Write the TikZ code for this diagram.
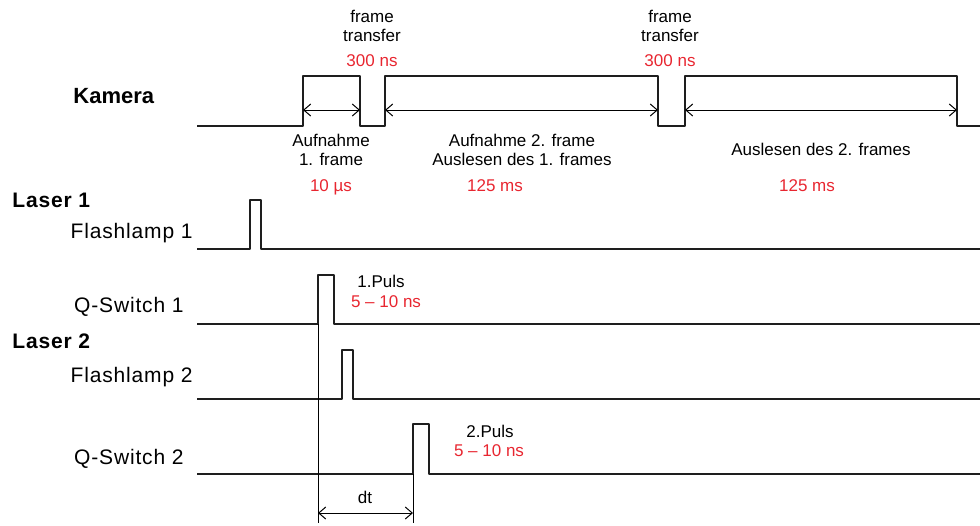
\documentclass[tikz,border=0pt]{standalone}
\usepackage{fontspec}
\setmainfont{Liberation Sans}
\newfontfamily\chanfont[LetterSpace=4]{Liberation Sans}
\usetikzlibrary{arrows.meta, positioning}
\definecolor{valred}{RGB}{232, 38, 48}
\definecolor{sigblack}{RGB}{30, 30, 30}
\tikzset{
  signal/.style={line width=1.2pt, draw=sigblack, line join=round},
  dimline/.style={{Straight Barb[length=3.5pt,width=6pt]}-{Straight Barb[length=3.5pt,width=6pt]}, line width=0.5pt},
  guide/.style={line width=0.5pt},
  chan/.style={font=\chanfont\fontsize{10.5}{12}\selectfont, anchor=base east, inner sep=0pt},
  laser/.style={font=\chanfont\fontsize{10.5}{14}\selectfont\bfseries, anchor=base west, inner sep=0pt},
  note/.style={font=\fontsize{8.5}{10}\selectfont, anchor=base, inner sep=0pt},
  val/.style={note, text=valred},
}

\begin{document}
\begin{tikzpicture}[x=0.5pt, y=-0.5pt]
  \useasboundingbox (0,0) rectangle (980,525);

  % labels on the left
  \node[laser, font=\fontsize{11}{14}\selectfont\bfseries] (kam) at (73,103) {Kamera};
  \node[laser] (las1) at (12,207) {Laser 1};
  \node[chan] (fl1) at (193,238) {Flashlamp 1};
  \node[chan] (qs1) at (184,312) {Q-Switch 1};
  \node[laser] (las2) at (12,348) {Laser 2};
  \node[chan] (fl2) at (193,382) {Flashlamp 2};
  \node[chan] (qs2) at (184,464) {Q-Switch 2};

  % camera signal
  \draw[signal] (197,126) -- (303,126) -- (303,76) -- (360,76) -- (360,126)
        -- (385,126) -- (385,76) -- (658,76) -- (658,126) -- (685,126)
        -- (685,76) -- (957,76) -- (957,126) -- (980,126);
  \coordinate (ka) at (303,110);
  \coordinate (kb) at (360,110);
  \coordinate (kc) at (385,110);
  \coordinate (kd) at (658,110);
  \coordinate (ke) at (685,110);
  \coordinate (kf) at (957,110);
  \draw[dimline] (ka) -- (kb);
  \draw[dimline] (kc) -- (kd);
  \draw[dimline] (ke) -- (kf);

  % camera notes
  \node[note] (ft1a) at (372,22) {frame};
  \node[note] (ft1b) at (372,41) {transfer};
  \node[val] (ft1t) at (372,66) {300 ns};
  \node[note] (ft2a) at (670,22) {frame};
  \node[note] (ft2b) at (670,41) {transfer};
  \node[val] (ft2t) at (670,66) {300 ns};
  \node[note] (auf1a) at (331,146) {Aufnahme};
  \node[note] (auf1b) at (331,165) {1. frame};
  \node[val] (auf1t) at (331,191) {10 µs};
  \node[note] (auf2a) at (522,146) {Aufnahme 2. frame};
  \node[note] (auf2b) at (522,165) {Auslesen des 1. frames};
  \node[val] (auf2t) at (495,191) {125 ms};
  \node[note] (aus2) at (821,155) {Auslesen des 2. frames};
  \node[val] (aus2t) at (807,191) {125 ms};

  % laser signals
  \draw[signal] (197,249) -- (250,249) -- (250,200) -- (261,200) -- (261,249) -- (980,249);
  \draw[signal] (197,324) -- (318,324) -- (318,275) -- (334,275) -- (334,324) -- (980,324);
  \draw[signal] (197,399) -- (342,399) -- (342,350) -- (353,350) -- (353,399) -- (980,399);
  \draw[signal] (197,474) -- (413,474) -- (413,424) -- (429,424) -- (429,474) -- (980,474);

  % pulse notes
  \node[note] (p1) at (381,287) {1.Puls};
  \node[val] (p1t) at (386,307) {5 -- 10 ns};
  \node[note] (p2) at (490,437) {2.Puls};
  \node[val] (p2t) at (489,456) {5 -- 10 ns};

  % dt
  \coordinate (q1) at (318,324);
  \coordinate (q2) at (413,474);
  \coordinate (q1b) at (318,523);
  \coordinate (q2b) at (413,523);
  \draw[guide] (q1) -- (q1b);
  \draw[guide] (q2) -- (q2b);
  \coordinate (dtl) at (318,513);
  \coordinate (dtr) at (413,513);
  \draw[dimline] (dtl) -- (dtr);
  \node[note] (dt) at (365,503) {dt};
\end{tikzpicture}
\end{document}
